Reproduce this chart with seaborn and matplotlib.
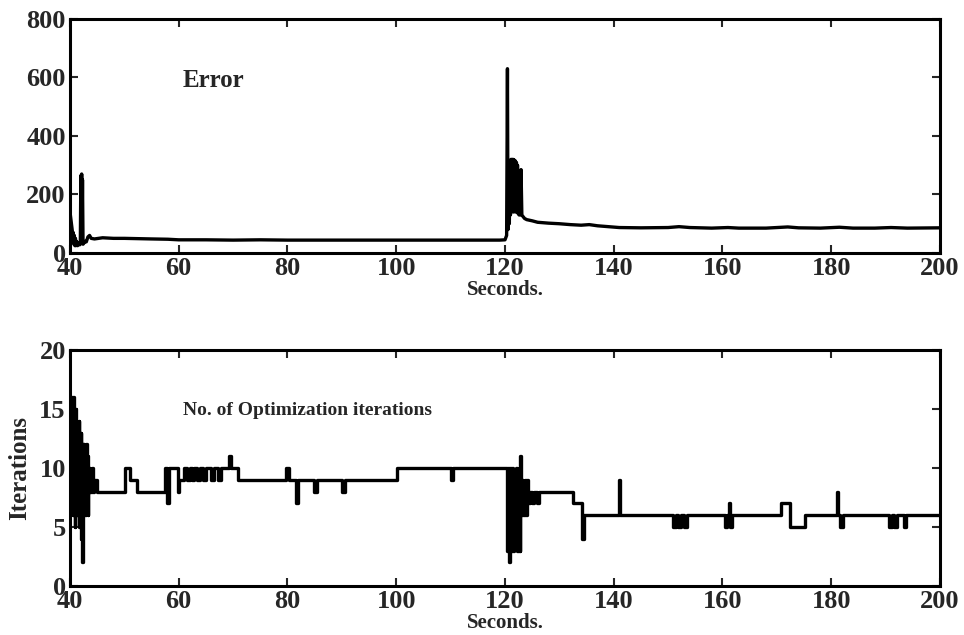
import numpy as np
import pandas as pd
import seaborn as sns
import matplotlib
matplotlib.use("Agg")
import matplotlib.pyplot as plt

# ---------------- data ----------------
err_time = [40.0, 40.2, 40.4, 40.5, 40.6, 40.7, 40.8, 40.9, 41.0, 41.1, 41.2, 41.4, 41.6, 41.8,
            41.9, 42.0, 42.05, 42.15, 42.2, 42.3, 42.4, 42.6, 42.8, 43.0, 43.3, 43.6, 43.9, 44.5,
            46, 48, 50, 55, 58, 60, 65, 70, 75, 80, 90, 100, 110, 119,
            120.0, 120.3, 120.45, 120.55, 120.7, 120.8, 120.9, 121.0, 121.1, 121.2, 121.3, 121.4,
            121.5, 121.6, 121.7, 121.8, 121.9, 122.0, 122.1, 122.2, 122.3, 122.4, 122.6, 122.8,
            122.95, 123.1, 123.3, 123.6, 124, 125, 126, 128, 130, 132, 134, 135.5, 137, 139, 141,
            145, 150, 152, 154, 158, 161, 163, 168, 172, 174, 178, 181.5, 184, 188, 191, 194, 200]
err_value = [140, 110, 80, 40, 70, 30, 60, 25, 50, 25, 40, 25, 35, 28,
             30, 265, 40, 270, 35, 250, 30, 35, 40, 38, 55, 60, 50, 48,
             52, 50, 50, 48, 47, 45, 45, 44, 45, 44, 44, 44, 44, 44,
             45, 60, 630, 80, 150, 100, 300, 130, 320, 140, 320, 150,
             320, 140, 318, 150, 315, 140, 310, 140, 300, 135, 130, 130,
             285, 130, 125, 118, 114, 110, 105, 102, 100, 97, 95, 97, 93, 90, 87,
             86, 87, 90, 87, 85, 87, 85, 85, 89, 86, 85, 88, 85, 85, 87, 85, 86]

iter_time = [40.0, 40.1, 40.2, 40.3, 40.4, 40.5, 40.6, 40.7, 40.8, 40.9, 41.0, 41.1, 41.2, 41.3,
             41.4, 41.5, 41.6, 41.7, 41.8, 41.9, 42.0, 42.1, 42.2, 42.35, 42.45, 42.55, 42.65,
             42.75, 42.85, 42.95, 43.05, 43.15, 43.25, 43.35, 43.45, 43.55, 43.65, 43.75, 43.85,
             44.0, 44.3, 44.5, 44.9,
             50.1, 51.0, 52.4, 57.5, 57.9, 58.3, 59.8, 60.1, 61.0, 61.5, 62.0, 62.4, 62.8,
             63.3, 64.0, 64.5, 65.0, 66.0, 66.4, 67.3, 67.7, 69.2, 69.6, 70.9,
             79.8, 80.2, 81.5, 81.9, 84.8, 85.4, 90.0, 90.6, 100.1, 110.0, 110.4,
             120.3, 120.5, 120.7, 120.9, 121.1, 121.3, 121.5, 121.7, 121.9, 122.1, 122.3,
             122.5, 122.7, 122.85, 123.0, 123.2, 123.4, 123.6, 123.8, 124.0, 124.2, 124.6,
             125.0, 125.4, 125.8, 126.2, 126.6, 132.5, 134.2, 134.6,
             140.9, 141.2, 150.9, 151.4, 151.9, 152.4, 152.9, 153.4, 154.0,
             160.5, 160.9, 161.2, 161.4, 161.8, 162.3, 170.8, 172.4, 175.2,
             181.0, 181.3, 181.7, 182.1, 190.7, 191.2, 191.6, 192.1, 192.6, 193.4, 193.7, 200.0]
iter_value = [10, 6, 16, 7, 15, 6, 16, 8, 15, 5, 15, 7, 14, 6,
              13, 7, 14, 5, 13, 6, 13, 4, 2, 12, 6, 12, 7,
              11, 6, 12, 7, 11, 6, 10, 8, 10, 8, 9, 8,
              10, 8, 9, 8,
              10, 9, 8, 10, 7, 10, 8, 9, 10, 9, 10, 9, 10,
              9, 10, 9, 10, 9, 10, 9, 10, 11, 10, 9,
              10, 9, 7, 9, 8, 9, 8, 9, 10, 9, 10,
              3, 10, 2, 10, 3, 10, 3, 9, 4, 10, 3,
              10, 3, 11, 6, 9, 6, 9, 6, 9, 7, 8,
              7, 8, 7, 8, 8, 7, 4, 6,
              9, 6, 5, 6, 5, 6, 5, 6, 6,
              5, 6, 7, 5, 6, 6, 7, 5, 6,
              8, 6, 5, 6, 5, 6, 5, 6, 6, 5, 6, 6]

x_ticks = [40, 60, 80, 100, 120, 140, 160, 180, 200]
err_yticks = [0, 200, 400, 600, 800]
iter_yticks = [0, 5, 10, 15, 20]

# ---------------- plotting ----------------
sns.set_style("ticks")
plt.rcParams["font.family"] = ["Liberation Serif", "DejaVu Serif"]
plt.rcParams["font.weight"] = "bold"

fig = plt.figure(figsize=(9.64, 6.35), dpi=100)
ax1 = fig.add_axes([0.0726, 0.6016, 0.9025, 0.3685])
ax2 = fig.add_axes([0.0726, 0.0772, 0.9025, 0.3716])

df_err = pd.DataFrame({"t": err_time, "v": err_value})
df_it = pd.DataFrame({"t": iter_time, "v": iter_value})

sns.lineplot(data=df_err, x="t", y="v", ax=ax1, color="black", lw=2.4,
             estimator=None, sort=False)
sns.lineplot(data=df_it, x="t", y="v", ax=ax2, color="black", lw=2.4,
             estimator=None, sort=False, drawstyle="steps-post")

for ax, yt, ylim in [(ax1, err_yticks, (0, 800)), (ax2, iter_yticks, (0, 20))]:
    ax.set_xlim(40, 200)
    ax.set_ylim(*ylim)
    ax.set_xticks(x_ticks)
    ax.set_yticks(yt)
    ax.tick_params(direction="in", top=True, right=True, length=6, width=1.5,
                   labelsize=19, pad=3)
    ax.tick_params(axis="x", pad=3)
    for lab in ax.get_xticklabels() + ax.get_yticklabels():
        lab.set_fontweight("bold")
    for s in ax.spines.values():
        s.set_linewidth(2.2)
        s.set_color("black")
    ax.set_xlabel("Seconds.", fontsize=15, fontweight="bold", labelpad=0)

ax1.set_ylabel("")
ax2.set_ylabel("Iterations", fontsize=18, fontweight="bold", labelpad=6)

ax1.text(60.8, 591, "Error", fontsize=18, fontweight="bold", va="center", ha="left")
ax2.text(60.8, 14.9, "No. of Optimization iterations", fontsize=14, fontweight="bold",
         va="center", ha="left")

fig.savefig("out.png", dpi=100)
